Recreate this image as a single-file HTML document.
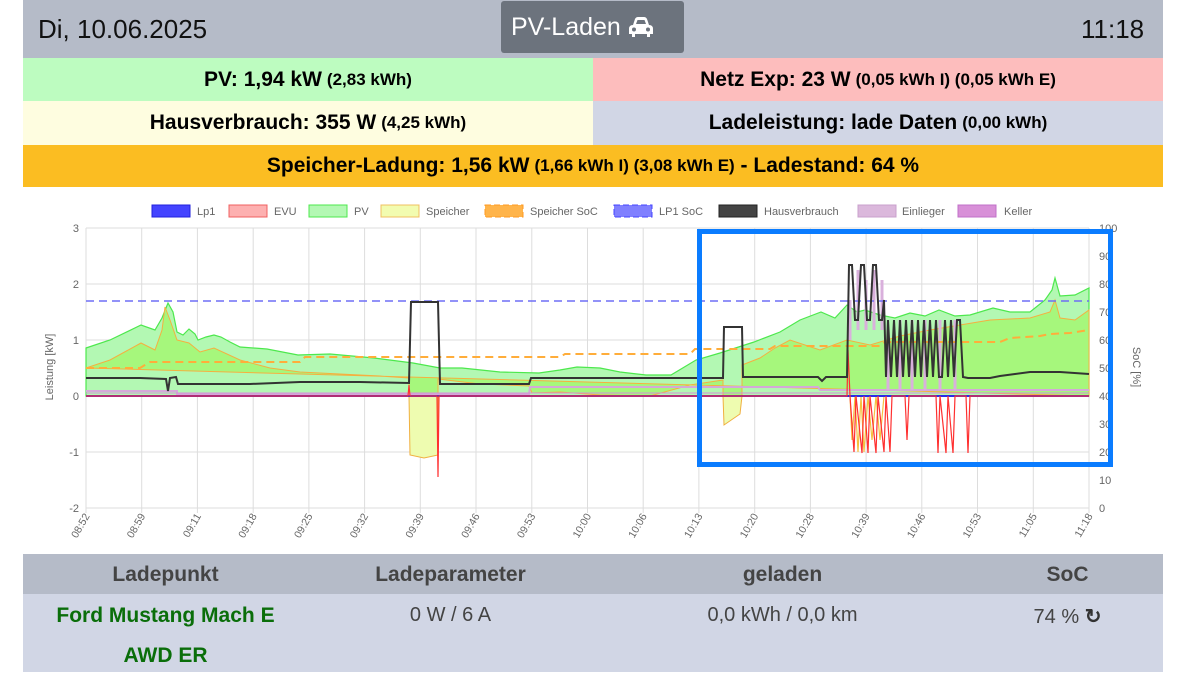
<!DOCTYPE html>
<html><head><meta charset="utf-8"><style>
*{margin:0;padding:0;box-sizing:border-box}
body{width:1183px;height:684px;background:#fff;font-family:"Liberation Sans",sans-serif;position:relative;overflow:hidden}
.a{position:absolute}
.top{left:23px;top:0;width:1140px;height:58px;background:#b5bbc8}
.row{position:absolute;display:flex;align-items:center;justify-content:center;font-weight:bold;font-size:21px;color:#000;white-space:nowrap}
.row small{font-size:17px;margin-left:5px}
.th{position:absolute;top:555px;height:40px;font-weight:bold;font-size:21px;color:#444;text-align:center;line-height:40px}
.td{position:absolute;font-size:20px;color:#444;text-align:center}
</style></head><body>
<div class="a top"></div>
<div class="a" style="left:38px;top:14px;font-size:26px;color:#111">Di, 10.06.2025</div>
<div class="a" style="left:501px;top:1px;width:183px;height:52px;background:#6c737d;border-radius:3px;color:#fff;font-size:25px;line-height:52px;padding-left:10px">PV-Laden <svg width="26" height="20" viewBox="0 0 26 20" style="vertical-align:-2px"><path d="M5 8 L7 2 Q8 0 10 0 H16 Q18 0 19 2 L21 8 Q25 8 25 12 V17 H22 V20 H19 V17 H7 V20 H4 V17 H1 V12 Q1 8 5 8Z M8 7 H18 L16.5 3 H9.5Z" fill="#fff"/><circle cx="6" cy="12.5" r="2" fill="#6c737d"/><circle cx="20" cy="12.5" r="2" fill="#6c737d"/></svg></div>
<div class="a" style="left:1081px;top:14px;font-size:26px;color:#111">11:18</div>
<div class="row" style="left:23px;top:58px;width:570px;height:43px;background:#bdfcc0">PV: 1,94 kW<small>(2,83 kWh)</small></div>
<div class="row" style="left:593px;top:58px;width:570px;height:43px;background:#fdbdbd">Netz Exp: 23 W<small>(0,05 kWh I) (0,05 kWh E)</small></div>
<div class="row" style="left:23px;top:101px;width:570px;height:44px;background:#fefde0">Hausverbrauch: 355 W<small>(4,25 kWh)</small></div>
<div class="row" style="left:593px;top:101px;width:570px;height:44px;background:#d1d6e5">Ladeleistung: lade Daten<small>(0,00 kWh)</small></div>
<div class="row" style="left:23px;top:145px;width:1140px;height:42px;background:#fbbd22">Speicher-Ladung: 1,56 kW<small>(1,66 kWh I) (3,08 kWh E)</small>&nbsp;- Ladestand: 64 %</div>

<svg class="a" style="left:0;top:0" width="1183" height="550" viewBox="0 0 1183 550" font-family="Liberation Sans,sans-serif">
<g stroke="#ddd" stroke-width="1">
<line x1="86" y1="228" x2="1089" y2="228"/><line x1="86" y1="284" x2="1089" y2="284"/><line x1="86" y1="340" x2="1089" y2="340"/><line x1="86" y1="396" x2="1089" y2="396"/><line x1="86" y1="452" x2="1089" y2="452"/><line x1="86" y1="508" x2="1089" y2="508"/>
</g>
<g stroke="#ddd">
<line x1="86" y1="228" x2="86" y2="513"/><line x1="141.7" y1="228" x2="141.7" y2="513"/><line x1="197.4" y1="228" x2="197.4" y2="513"/><line x1="253.2" y1="228" x2="253.2" y2="513"/><line x1="308.9" y1="228" x2="308.9" y2="513"/><line x1="364.6" y1="228" x2="364.6" y2="513"/><line x1="420.3" y1="228" x2="420.3" y2="513"/><line x1="476" y1="228" x2="476" y2="513"/><line x1="531.8" y1="228" x2="531.8" y2="513"/><line x1="587.5" y1="228" x2="587.5" y2="513"/><line x1="643.2" y1="228" x2="643.2" y2="513"/><line x1="698.9" y1="228" x2="698.9" y2="513"/><line x1="754.7" y1="228" x2="754.7" y2="513"/><line x1="810.4" y1="228" x2="810.4" y2="513"/><line x1="866.1" y1="228" x2="866.1" y2="513"/><line x1="921.8" y1="228" x2="921.8" y2="513"/><line x1="977.5" y1="228" x2="977.5" y2="513"/><line x1="1033.3" y1="228" x2="1033.3" y2="513"/><line x1="1089" y1="228" x2="1089" y2="513"/>
</g>
<path d="M86,348 L110,340 L141,325 L155,330 L162,318 L168,303 L173,312 L177,332 L183,335 L189,329 L195,334 L198,340 L206,337 L214,335 L221,337 L230,342 L240,347 L267,349 L298,355 L330,354 L374,358 L413,363 L440,368 L462,368 L500,372 L539,373 L560,370 L577,367 L600,368 L620,372 L646,375 L671,375 L696,360 L720,353 L754,342 L780,332 L800,320 L821,312 L835,318 L847,305 L857,312 L865,310 L880,315 L895,318 L910,313 L925,316 L939,310 L955,316 L970,315 L993,308 L1010,312 L1030,312 L1045,300 L1052,290 L1055,278 L1060,296 L1075,295 L1089,288 L1089,396 L86,396Z" fill="#b3f8b3" stroke="#4de84d" stroke-width="1.2"/>
<path d="M86,368 L110,360 L141,343 L155,350 L162,330 L165,307 L170,320 L177,340 L189,343 L200,352 L214,348 L240,360 L270,368 L300,372 L340,374 L380,376 L409,378 L409,396 L438,396 L438,379 L480,384 L529,386 L532,393 L560,392 L600,395 L650,396 L690,385 L723,380 L723,396 L742,396 L742,365 L760,358 L775,348 L790,340 L805,345 L820,350 L847,340 L870,345 L900,336 L930,330 L960,325 L990,320 L1030,318 L1050,312 L1055,300 L1060,318 L1075,320 L1089,310 L1089,396Z" fill="#a6f77c" stroke="#f5b040" stroke-width="1"/>
<path d="M409,396 L410,455 L424,458 L438,455 L438,396Z" fill="#eefcb0" stroke="#f0b040" stroke-width="1"/>
<path d="M723,396 L724,425 L740,414 L742,396Z" fill="#eefcb0" stroke="#f0b040" stroke-width="1"/>
<path d="M850,396 L852,440 L855,396 L858,452 L861,396 L864,452 L868,396 L872,440 L876,396 L880,440 L884,396" fill="none" stroke="#f5c040" stroke-width="1.2"/>
<path d="M86,391 L177,391 L177,394 L529,394 L530,387 L818,387 L820,390 L1089,390" fill="none" stroke="#d4a9d8" stroke-width="2"/>
<path d="M86,393 L1089,393" fill="none" stroke="#d48fd8" stroke-width="1"/>
<path d="M850,300 L850,340 M858,270 L858,330 M866,280 L866,330 M874,270 L874,330 M882,280 L882,330 M888,390 L888,330 M900,320 L900,390 M912,320 L912,390 M925,320 L925,390 M940,320 L940,390 M955,320 L955,390" stroke="#d9b0dc" stroke-width="3" fill="none"/>
<line x1="86" y1="396" x2="1089" y2="396" stroke="#2a2ae8" stroke-width="2"/>
<path d="M86,396 L408,396 L409,385 L410,396 L437,396 L438,477 L439,396 L847,396 L848,350 L850,396 L854,452 L856,396 L862,453 L864,396 L868,453 L870,396 L876,453 L878,396 L884,452 L886,396 L890,452 L892,396 L905,396 L907,440 L909,396 L936,396 L938,453 L940,396 L946,453 L948,396 L953,453 L955,396 L966,396 L968,453 L970,396 L1089,396" fill="none" stroke="#ff3030" stroke-width="1.2"/>
<path d="M86,368 L140,368 L150,362 L300,362 L305,357 L560,357 L565,354 L690,354 L695,349 L770,349 L775,346 L880,346 L885,342 L1000,342 L1010,338 L1040,336 L1050,334 L1070,333 L1089,330" fill="none" stroke="#ffad3a" stroke-width="2" stroke-dasharray="8,5"/>
<line x1="86" y1="301" x2="1089" y2="301" stroke="#6e6ef5" stroke-width="1.5" stroke-dasharray="8,5"/>
<path d="M86,378 L140,378 L166,379 L168,391 L170,378 L176,377 L178,384 L250,384 L300,382 L360,382 L409,383 L411,302 L438,302 L440,384 L529,384 L531,378 L700,378 L723,378 L724,327 L742,327 L743,377 L818,377 L822,381 L826,377 L847,377 L849,265 L852,265 L855,320 L858,320 L861,265 L864,265 L867,320 L870,320 L873,265 L876,265 L879,320 L882,320 L884,300 L886,377 L888,320 L891,377 L894,320 L897,377 L900,320 L903,377 L906,320 L909,377 L912,320 L915,377 L918,320 L921,377 L924,320 L927,377 L930,320 L933,377 L936,320 L939,377 L942,377 L945,320 L948,377 L951,320 L954,377 L957,320 L960,320 L963,377 L968,378 L990,378 L1000,376 L1015,374 L1030,372 L1060,372 L1089,374" fill="none" stroke="#333" stroke-width="2"/>
<g font-size="11" fill="#666" text-anchor="end">
<text x="79" y="232">3</text><text x="79" y="288">2</text><text x="79" y="344">1</text><text x="79" y="400">0</text><text x="79" y="456">-1</text><text x="79" y="512">-2</text>
</g>
<g font-size="11" fill="#666">
<text x="1099" y="232">100</text><text x="1099" y="260">90</text><text x="1099" y="288">80</text><text x="1099" y="316">70</text><text x="1099" y="344">60</text><text x="1099" y="372">50</text><text x="1099" y="400">40</text><text x="1099" y="428">30</text><text x="1099" y="456">20</text><text x="1099" y="484">10</text><text x="1099" y="512">0</text>
</g>
<text transform="translate(53,367) rotate(-90)" font-size="11" fill="#666" text-anchor="middle">Leistung [kW]</text>
<text transform="translate(1133,367) rotate(90)" font-size="11" fill="#666" text-anchor="middle">SoC [%]</text>
<g font-size="10.5" fill="#666" text-anchor="end">
<text transform="translate(90,516) rotate(-60)">08:52</text><text transform="translate(145.7,516) rotate(-60)">08:59</text><text transform="translate(201.4,516) rotate(-60)">09:11</text><text transform="translate(257.2,516) rotate(-60)">09:18</text><text transform="translate(312.9,516) rotate(-60)">09:25</text><text transform="translate(368.6,516) rotate(-60)">09:32</text><text transform="translate(424.3,516) rotate(-60)">09:39</text><text transform="translate(480,516) rotate(-60)">09:46</text><text transform="translate(535.8,516) rotate(-60)">09:53</text><text transform="translate(591.5,516) rotate(-60)">10:00</text><text transform="translate(647.2,516) rotate(-60)">10:06</text><text transform="translate(702.9,516) rotate(-60)">10:13</text><text transform="translate(758.7,516) rotate(-60)">10:20</text><text transform="translate(814.4,516) rotate(-60)">10:28</text><text transform="translate(870.1,516) rotate(-60)">10:39</text><text transform="translate(925.8,516) rotate(-60)">10:46</text><text transform="translate(981.5,516) rotate(-60)">10:53</text><text transform="translate(1037.3,516) rotate(-60)">11:05</text><text transform="translate(1093,516) rotate(-60)">11:18</text>
</g>
<g font-size="11" fill="#666">
<rect x="152" y="205" width="38" height="12" fill="#4444ff" stroke="#2222dd"/><text x="197" y="215">Lp1</text>
<rect x="229" y="205" width="38" height="12" fill="#fdb0b0" stroke="#f06060"/><text x="274" y="215">EVU</text>
<rect x="309" y="205" width="38" height="12" fill="#b3f8b3" stroke="#4de84d"/><text x="354" y="215">PV</text>
<rect x="381" y="205" width="38" height="12" fill="#f2fcb0" stroke="#f0c060"/><text x="426" y="215">Speicher</text>
<rect x="485" y="205" width="38" height="12" fill="#ffb44a" stroke="#ff9a20" stroke-dasharray="6,3"/><text x="530" y="215">Speicher SoC</text>
<rect x="614" y="205" width="38" height="12" fill="#8080ff" stroke="#4444ff" stroke-dasharray="6,3"/><text x="659" y="215">LP1 SoC</text>
<rect x="719" y="205" width="38" height="12" fill="#444" stroke="#222"/><text x="764" y="215">Hausverbrauch</text>
<rect x="858" y="205" width="38" height="12" fill="#dbb8dc" stroke="#c8a0cc"/><text x="902" y="215">Einlieger</text>
<rect x="958" y="205" width="38" height="12" fill="#d890d8" stroke="#c070c8"/><text x="1004" y="215">Keller</text>
</g>
<rect x="699.5" y="231.5" width="411" height="233" fill="none" stroke="#0a7cff" stroke-width="5"/>
</svg>

<div class="a" style="left:23px;top:554px;width:1140px;height:40px;background:#b5bbc8"></div>
<div class="a" style="left:23px;top:594px;width:1140px;height:78px;background:#d1d6e5"></div>
<div class="th" style="left:23px;width:285px">Ladepunkt</div>
<div class="th" style="left:308px;width:285px">Ladeparameter</div>
<div class="th" style="left:640px;width:285px">geladen</div>
<div class="th" style="left:925px;width:285px">SoC</div>
<div class="td" style="left:23px;top:596px;width:285px;color:#0a6e0a;font-weight:bold;font-size:21px;line-height:40px">Ford Mustang Mach E<br>AWD ER</div>
<div class="td" style="left:308px;top:604px;width:285px">0 W / 6 A</div>
<div class="td" style="left:640px;top:604px;width:285px">0,0 kWh / 0,0 km</div>
<div class="td" style="left:925px;top:604px;width:285px">74 % <b style="color:#333">&#8635;</b></div>
</body></html>
